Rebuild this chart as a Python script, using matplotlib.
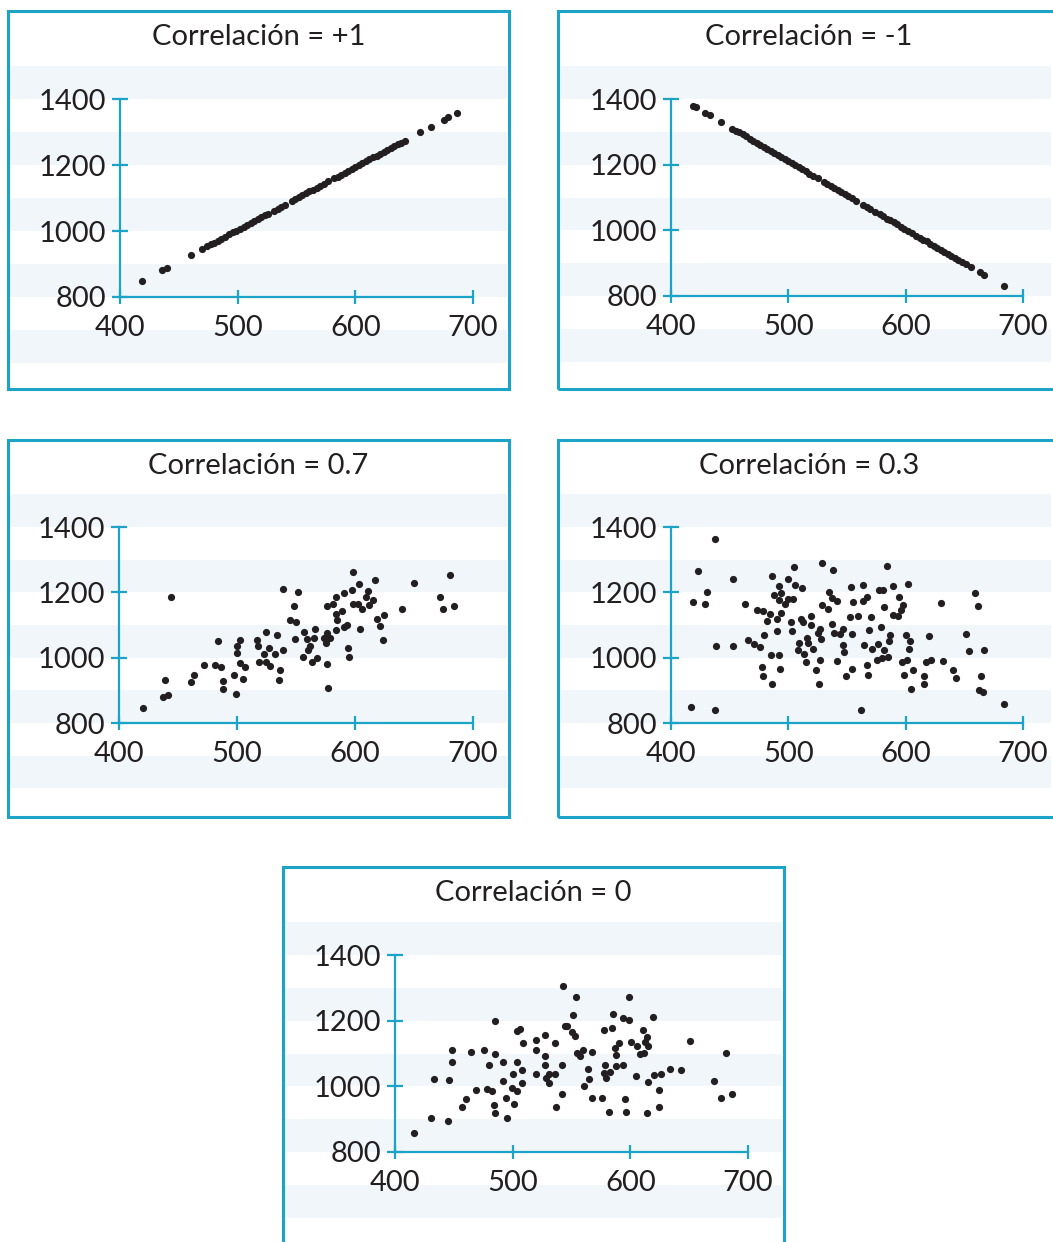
import matplotlib.pyplot as plt
from matplotlib.patches import Rectangle

# Correlación = +1
x_p1 = [419, 436, 440, 460, 470, 474, 477, 480, 483, 486, 489, 493, 496, 499, 502, 505,
        508, 511, 514, 517, 520, 523, 526, 531, 534, 537, 540, 546, 549, 552, 555, 558,
        561, 564, 567, 570, 573, 577, 582, 585, 588, 591, 594, 597, 600, 603, 606, 609,
        612, 615, 618, 621, 624, 627, 630, 633, 636, 639, 642, 655, 664, 675, 679, 686]
y_p1 = [849, 881, 889, 927, 946, 954, 960, 965, 971, 977, 982, 990, 996, 1001, 1007, 1013,
        1019, 1024, 1030, 1036, 1041, 1047, 1053, 1062, 1068, 1074, 1080, 1091, 1097, 1102,
        1108, 1114, 1120, 1125, 1131, 1137, 1142, 1150, 1160, 1165, 1171, 1177, 1183, 1188,
        1194, 1200, 1205, 1211, 1217, 1223, 1228, 1234, 1240, 1245, 1251, 1257, 1263, 1268,
        1274, 1299, 1316, 1337, 1345, 1358]

# Correlación = -1
x_m1 = [419, 421, 429, 433, 443, 452, 455, 458, 461, 464, 467, 470, 473, 476, 479, 482,
        485, 488, 491, 494, 497, 500, 503, 506, 509, 512, 515, 518, 521, 525, 530, 533,
        536, 539, 542, 545, 548, 551, 554, 558, 564, 567, 570, 574, 578, 581, 584, 587,
        590, 593, 596, 599, 602, 605, 609, 612, 615, 618, 621, 624, 627, 630, 633, 636,
        639, 642, 645, 648, 651, 656, 663, 667, 684]
y_m1 = [1379, 1375, 1358, 1350, 1329, 1310, 1304, 1298, 1292, 1286, 1279, 1273, 1267, 1261,
        1254, 1248, 1242, 1236, 1229, 1223, 1217, 1211, 1205, 1198, 1192, 1186, 1180, 1173,
        1167, 1159, 1148, 1142, 1136, 1130, 1124, 1117, 1111, 1105, 1099, 1090, 1078, 1072,
        1065, 1057, 1049, 1043, 1036, 1030, 1024, 1018, 1011, 1005, 999, 993, 984, 978, 972,
        966, 959, 953, 947, 941, 935, 928, 922, 916, 910, 903, 897, 887, 872, 864, 829]

# Correlación = 0.7
x_07 = [420, 437.6, 441.3, 439, 444, 460.8, 463.6, 472.4, 481.4, 486.3, 484.3, 488, 488.5,
        497.6, 499, 499.8, 500.4, 502.7, 502.7, 505, 507, 516.8, 517.4, 518.8, 522.5, 524.4,
        524.4, 527.3, 528, 532.6, 534.3, 536.6, 536, 538.9, 539.4, 544.5, 547.9, 549.3, 550.2,
        551.3, 555.8, 556.4, 559.2, 559.8, 561.5, 563.5, 565.5, 566.3, 567.7, 573.4, 575.6,
        576.2, 576.2, 576.2, 577.3, 578.4, 581.3, 583.8, 584.1, 584.7, 583.8, 588.9, 591.1,
        591.1, 593.2, 594, 594.9, 597.4, 598, 598.2, 602.2, 603.6, 603.9, 605.9, 609.3, 611,
        611.5, 614.9, 616.6, 618.6, 620.9, 623.7, 624.3, 639.8, 650.3, 672.3, 674.6, 680.3, 684.2]
y_07 = [846, 880, 887, 931, 1185, 924, 946, 977, 979, 971, 1052, 928, 905, 948, 890, 1037,
        1014, 1055, 984, 935, 971, 1055, 1035, 987, 1011, 1079, 987, 1030, 975, 1012, 1070,
        963, 933, 1024, 1210, 1114, 1157, 1058, 1110, 1201, 1003, 1078, 1058, 1022, 1037, 988,
        1060, 1088, 999, 1060, 1045, 1076, 1157, 981, 907, 1060, 1165, 1186, 1134, 1114, 1086,
        1144, 1198, 1094, 1101, 1030, 1002, 1208, 1261, 1165, 1165, 1227, 1089, 1149, 1185,
        1205, 1162, 1176, 1237, 1118, 1098, 1055, 1130, 1150, 1229, 1186, 1150, 1252, 1157]

# Correlación = 0.3
x_03 = [417, 418.7, 423, 428.6, 430.6, 437.7, 438.6, 437.7, 452.7, 452.7, 463.2, 466, 470.9,
        473.2, 475.5, 477.4, 478, 478.8, 479.4, 482.2, 484.5, 485, 485.9, 486.5, 488.2, 490.2,
        490.7, 491.9, 492.2, 492.4, 493, 493.6, 493.9, 497.3, 500.1, 500.1, 502.1, 503.5, 504.3,
        505.2, 505.8, 508.6, 509.4, 510.5, 511.4, 512.2, 513.4, 515.1, 515.7, 517.1, 519.1,
        519.4, 521.4, 523.6, 525, 526.4, 526.9, 527.4, 527.7, 528.3, 528.7, 534.1, 534.6, 536.9,
        537.2, 538, 538.9, 541.1, 541.7, 544, 546.3, 546.9, 547.4, 548.9, 552.6, 553.1, 554,
        554.5, 555.4, 559.1, 561.6, 563.9, 563.9, 564.7, 566.7, 567.3, 567.6, 569, 570.4, 571,
        575.8, 576.7, 577.2, 578.9, 579.5, 580.9, 581.5, 581.8, 583.7, 585.2, 586, 586.6, 589.4,
        589.4, 593.1, 594.2, 595.6, 597.1, 597.9, 599, 600.7, 601.3, 602.1, 603, 603.5, 604.4,
        606.4, 615.8, 615.5, 617.2, 619.8, 622, 630.5, 631.4, 640.4, 642.7, 651.8, 654.1, 659.5,
        661.7, 662.3, 666, 664.6, 666.5, 683.8]
y_03 = [848, 1170, 1266, 1164, 1200, 1364, 1035, 839, 1242, 1035, 1164, 1053, 1042, 1147,
        1032, 970, 943, 1142, 1068, 1111, 1134, 1009, 919, 1251, 1191, 1083, 1118, 1178, 1009,
        1220, 965, 1198, 1137, 1165, 1180, 1242, 1108, 1081, 1180, 1277, 1223, 1022, 1045, 1118,
        1213, 1108, 1012, 986, 1060, 1045, 1127, 1101, 1028, 963, 1076, 920, 1088, 994, 1057,
        1290, 1160, 1150, 1201, 1183, 1103, 1267, 1076, 991, 1172, 1072, 1038, 1089, 1016, 945,
        1123, 1215, 1073, 965, 1170, 1129, 839, 1223, 1174, 1038, 1185, 977, 946, 1086, 1124,
        1027, 992, 1043, 1208, 1093, 999, 1208, 1154, 1024, 1280, 1001, 1050, 1068, 1218, 1130,
        1127, 1185, 1147, 986, 1162, 948, 1070, 994, 1226, 1028, 1052, 905, 963, 943, 919, 986,
        1065, 992, 1167, 991, 961, 938, 1073, 1019, 1198, 1159, 900, 894, 945, 1022, 859]

# Correlación = 0
x_00 = [416.4, 430.3, 433.5, 444.8, 446.2, 448.2, 448.5, 457.3, 460.1, 464.9, 468.9, 475.7,
        477.9, 480.2, 482.5, 484.5, 484.8, 484.8, 485.1, 491.6, 491.6, 494.1, 495, 499.2, 500.7,
        501.5, 503.5, 503.5, 503.5, 506.3, 508.3, 508.3, 508.6, 519.9, 519.9, 519.9, 527.9,
        527.9, 527.9, 528.4, 530.7, 531.3, 536.1, 536.4, 536.7, 541.8, 542.1, 542.6, 544.9,
        546.6, 550.3, 551.2, 552.9, 554, 554.5, 557.4, 559.9, 560.2, 564.2, 564.5, 567.6, 567.6,
        576.1, 577.2, 577.2, 578.6, 579.2, 581.5, 582.3, 584.3, 584.9, 587.1, 587.7, 587.7,
        590.3, 593.4, 593.7, 595.7, 596.5, 598.5, 599, 600.5, 605, 605.6, 607.8, 610.7, 611.2,
        612.7, 614.1, 614.9, 614.6, 614.1, 619.2, 619.8, 624, 624, 626, 633.9, 643, 650.4,
        671.4, 677, 681.3, 686.4]
y_00 = [859, 905, 1022, 894, 1019, 1112, 1074, 937, 960, 1105, 990, 1112, 991, 1065, 986,
        942, 1100, 1200, 919, 1073, 1015, 963, 905, 995, 1039, 947, 1073, 985, 1169, 1174,
        1049, 1011, 1131, 1141, 1110, 1039, 1156, 1092, 1065, 1024, 1011, 1039, 1133, 1039,
        937, 1064, 978, 1305, 1184, 1184, 1166, 1216, 1154, 1273, 1102, 1092, 1112, 1000, 1053,
        1023, 1106, 965, 965, 1173, 1042, 1064, 1024, 922, 1044, 1179, 1220, 1117, 1095, 1063,
        1133, 1207, 1066, 960, 922, 1202, 1273, 1136, 1031, 1124, 1098, 1173, 1102, 1136, 1151,
        1124, 1012, 920, 1212, 1034, 990, 937, 1039, 1053, 1049, 1139, 1015, 965, 1103, 976]

titles = ["Correlación = +1", "Correlación = -1", "Correlación = 0.7",
          "Correlación = 0.3", "Correlación = 0"]
x_ticks = [400, 500, 600, 700]
y_ticks = [800, 1000, 1200, 1400]
stripe_starts = [600, 800, 1000, 1200, 1400]

W, H = 1053, 1242
teal = '#1BA3C8'
stripe = '#F0F6FA'
ink = '#231F20'

plt.rcParams['font.family'] = ['Lato', 'DejaVu Sans']

fig = plt.figure(figsize=(W / 100, H / 100), dpi=100)

# pixel layout: (x of 400, x of 700, y of 1400, y of 800), box (left, top, right, bottom)
panels = [
    (x_p1, y_p1, (120, 473, 99, 297), (8, 11, 509, 389)),
    (x_m1, y_m1, (671, 1023, 99, 296), (558, 11, 1062, 389)),
    (x_07, y_07, (119, 473, 527, 723), (8, 440, 509, 817)),
    (x_03, y_03, (671, 1023, 527, 723), (558, 440, 1062, 817)),
    (x_00, y_00, (395, 748, 955, 1152), (283, 867, 784, 1252)),
]

for (xs, ys, (px0, px1, py0, py1), (bx0, by0, bx1, by1)), title in zip(panels, titles):
    ax = fig.add_axes([px0 / W, 1 - py1 / H, (px1 - px0) / W, (py1 - py0) / H])
    ax.patch.set_visible(False)
    ax.set_xlim(400, 700)
    ax.set_ylim(800, 1400)

    # franjas de fondo, de borde a borde del recuadro
    fx0 = (bx0 + 2 - px0) / (px1 - px0)
    fx1 = (min(bx1, W) - 2 - px0) / (px1 - px0)
    for v in stripe_starts:
        ax.axhspan(v, v + 100, xmin=fx0, xmax=fx1, color=stripe, lw=0,
                   zorder=0, clip_on=False)

    ax.scatter(xs, ys, s=27, color=ink, lw=0, zorder=3, clip_on=False)

    for side in ['top', 'right']:
        ax.spines[side].set_visible(False)
    for side in ['left', 'bottom']:
        ax.spines[side].set_color(teal)
        ax.spines[side].set_linewidth(1.6)
    ax.set_xticks(x_ticks)
    ax.set_yticks(y_ticks)
    ax.tick_params(axis='y', direction='inout', length=12, width=1.6, color=teal,
                   labelsize=21, labelcolor=ink, pad=4)
    ax.tick_params(axis='x', direction='inout', length=10, width=1.6, color=teal,
                   labelsize=21, labelcolor=ink, pad=8)

    # recuadro del panel
    fig.patches.append(Rectangle((bx0 / W, 1 - by1 / H), (bx1 - bx0) / W, (by1 - by0) / H,
                                 transform=fig.transFigure, fill=False, ec=teal, lw=2.2))
    cx = (bx0 + 251) if bx1 > W else (bx0 + bx1) / 2
    fig.text(cx / W, 1 - (by0 + 34) / H, title, ha='center', va='baseline',
             fontsize=21, color=ink)

fig.savefig('out.png', dpi=100)
